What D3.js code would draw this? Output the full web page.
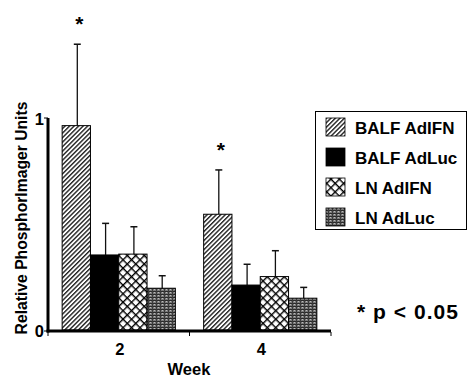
<!DOCTYPE html>
<html><head><meta charset="utf-8">
<script src="https://cdn.jsdelivr.net/npm/d3@7"></script>
<style>body{margin:0;background:#fff}svg{display:block}text{font-family:"Liberation Sans",Arial,sans-serif;font-weight:bold;fill:#000}</style>
</head><body><svg id="c" width="468" height="378"></svg>
<script>
const weeks = ["2", "4"];
const series = ["BALF AdIFN", "BALF AdLuc", "LN AdIFN", "LN AdLuc"];
const means = [
  [0.964, 0.354, 0.358, 0.197],
  [0.546, 0.212, 0.252, 0.150]
];
const errTops = [
  [1.348, 0.503, 0.487, 0.256],
  [0.755, 0.310, 0.374, 0.201]
];
const significant = [
  [true, false, false, false],
  [true, false, false, false]
];
const yTicks = [0, 1];

const svg = d3.select("#c");
const defs = svg.append("defs");
const p1 = defs.append("pattern").attr("id","pHatch").attr("patternUnits","userSpaceOnUse")
  .attr("width",3.2).attr("height",3.2).attr("patternTransform","rotate(45)");
p1.append("rect").attr("width",3.2).attr("height",3.2).attr("fill","#fff");
p1.append("rect").attr("x",0).attr("width",1.4).attr("height",3.2).attr("fill","#222");
const cs = 6;
const p3 = defs.append("pattern").attr("id","pCross").attr("patternUnits","userSpaceOnUse")
  .attr("width",cs).attr("height",cs).attr("patternTransform","rotate(45)");
p3.append("rect").attr("width",cs).attr("height",cs).attr("fill","#fff");
p3.append("rect").attr("width",1.4).attr("height",cs).attr("fill","#000");
p3.append("rect").attr("width",cs).attr("height",1.4).attr("fill","#000");
const p4 = defs.append("pattern").attr("id","pGrid").attr("patternUnits","userSpaceOnUse")
  .attr("width",4).attr("height",3);
p4.append("rect").attr("width",4).attr("height",3).attr("fill","#7a7a7a");
p4.append("rect").attr("width",4).attr("height",1).attr("fill","#2a2a2a");
p4.append("rect").attr("width",1).attr("height",3).attr("fill","#3a3a3a");
p4.append("rect").attr("x",2).attr("y",1).attr("width",1).attr("height",1).attr("fill","#bbb");
const fills = ["url(#pHatch)", "#000", "url(#pCross)", "url(#pGrid)"];

const x0 = d3.scaleBand().domain(weeks).range([48, 331]).paddingInner(0.2).paddingOuter(0.1);
const x1 = d3.scaleBand().domain(series).range([0, x0.bandwidth()]);
const y = d3.scaleLinear().domain([0, 1]).range([330, 118]);

const g = svg.append("g");
weeks.forEach((w, wi) => {
  series.forEach((s, si) => {
    const bx = x0(w) + x1(s), bw = x1.bandwidth();
    const cx = bx + bw / 2 + 1;
    g.append("line").attr("x1",cx).attr("x2",cx).attr("y1",y(means[wi][si])).attr("y2",y(errTops[wi][si]))
      .attr("stroke","#111").attr("stroke-width",1.3);
    g.append("line").attr("x1",cx-3.5).attr("x2",cx+3.5).attr("y1",y(errTops[wi][si])).attr("y2",y(errTops[wi][si]))
      .attr("stroke","#111").attr("stroke-width",1.5);
    g.append("rect").attr("x",bx).attr("y",y(means[wi][si])).attr("width",bw)
      .attr("height",y(0)-y(means[wi][si])).attr("fill",fills[si])
      .attr("stroke","#000").attr("stroke-width",1);
    if (significant[wi][si]) {
      g.append("text").attr("x",cx+2).attr("y",y(errTops[wi][si]) - 13)
        .attr("text-anchor","middle").attr("font-size",21).text("*");
    }
  });
});

svg.append("line").attr("x1",48).attr("x2",48).attr("y1",y(1)).attr("y2",y(0)+2.5)
  .attr("stroke","#000").attr("stroke-width",3);
svg.append("line").attr("x1",46.5).attr("x2",331).attr("y1",y(0)+1).attr("y2",y(0)+1)
  .attr("stroke","#000").attr("stroke-width",3);
[48, (x0("2")+x0.bandwidth()+x0("4"))/2, 331].forEach(t=>{
  svg.append("line").attr("x1",t).attr("x2",t).attr("y1",y(0)+2).attr("y2",y(0)+6).attr("stroke","#000").attr("stroke-width",1);
});
yTicks.forEach(t=>{
  svg.append("line").attr("x1",44).attr("x2",48).attr("y1",y(t)+(t===0?1:0)).attr("y2",y(t)+(t===0?1:0)).attr("stroke","#000").attr("stroke-width",1);
  svg.append("text").attr("x",44).attr("y",y(t)+6.5).attr("text-anchor","end").attr("font-size",16.5).text(String(t));
});
weeks.forEach(w=>{
  svg.append("text").attr("x",x0(w)+x0.bandwidth()/2+1).attr("y",355).attr("text-anchor","middle").attr("font-size",16.5).text(w);
});
svg.append("text").attr("x",189).attr("y",375).attr("text-anchor","middle").attr("font-size",16.5).text("Week");
svg.append("text").attr("transform","translate(27,218) rotate(-90)").attr("text-anchor","middle")
  .attr("font-size",15.7).text("Relative PhosphorImager Units");

svg.append("rect").attr("x",315.5).attr("y",111.5).attr("width",151).attr("height",118)
  .attr("fill","#fff").attr("stroke","#000").attr("stroke-width",1);
series.forEach((s, si) => {
  const cy = 127 + si * 30;
  svg.append("rect").attr("x",326).attr("y",cy-9).attr("width",19).attr("height",18)
    .attr("fill",fills[si]).attr("stroke","#000").attr("stroke-width",0.8);
  svg.append("text").attr("x",355).attr("y",cy+6.5).attr("font-size",17).text(s);
});

svg.append("text").attr("x",357).attr("y",318.5).attr("font-size",21)
  .attr("textLength",101).attr("lengthAdjust","spacing").text("* p < 0.05");
</script></body></html>
